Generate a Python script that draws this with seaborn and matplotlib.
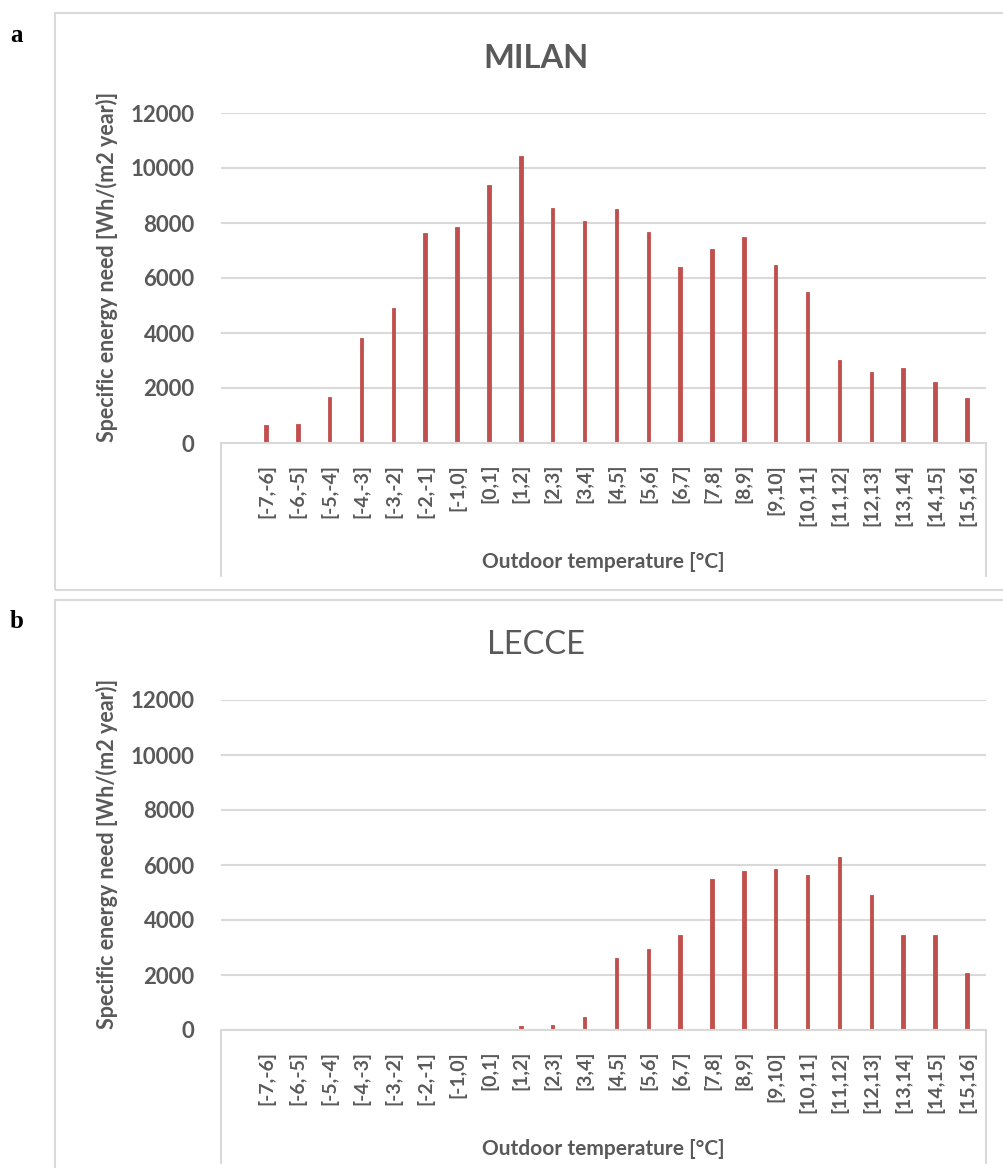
import matplotlib
matplotlib.use("Agg")
import matplotlib.pyplot as plt
import seaborn as sns
import pandas as pd
from matplotlib.patches import Rectangle
from matplotlib.lines import Line2D

# temperature bins [°C]
bins = ["[-7,-6]", "[-6,-5]", "[-5,-4]", "[-4,-3]", "[-3,-2]", "[-2,-1]", "[-1,0]",
        "[0,1]", "[1,2]", "[2,3]", "[3,4]", "[4,5]", "[5,6]", "[6,7]", "[7,8]",
        "[8,9]", "[9,10]", "[10,11]", "[11,12]", "[12,13]", "[13,14]", "[14,15]", "[15,16]"]

# specific energy need [Wh/(m2 year)]
milan = [660, 690, 1680, 3830, 4910, 7620, 7850, 9380, 10450, 8530, 8090, 8520,
         7660, 6410, 7040, 7480, 6480, 5500, 3020, 2600, 2740, 2230, 1620]
lecce = [0, 0, 0, 0, 0, 0, 10, 0, 150, 180, 470, 2610,
         2940, 3440, 5480, 5780, 5840, 5620, 6280, 4910, 3470, 3470, 2070]

yticks = [0, 2000, 4000, 6000, 8000, 10000, 12000]

BAR = "#C0504D"
GREY = "#595959"
LINE = "#D9D9D9"
W, H = 1004, 1168

sns.set_theme(style="white")
plt.rcParams['font.family'] = ['Lato', 'DejaVu Sans']

fig = plt.figure(figsize=(W / 100, H / 100), dpi=100)


def fx(px):
    return px / W


def fy(py):
    return 1 - py / H


def panel(values, title, letter, off, bold_title):
    # outer chart frame
    fig.patches.append(Rectangle((fx(55), fy(590 + off)), fx(1010 - 55), (590 - 13) / H,
                                 transform=fig.transFigure, fill=False,
                                 edgecolor=LINE, linewidth=1.5))
    fig.text(fx(17), fy(35 + off), letter, family="Liberation Serif",
             fontweight="bold", fontsize=18, ha="center", va="center", color="black")

    ax = fig.add_axes([fx(221), fy(443 + off), fx(986 - 221), (443 - 113) / H])
    df = pd.DataFrame({"bin": bins, "need": values})
    sns.barplot(data=df, x="bin", y="need", color=BAR, saturation=1, width=0.11,
                edgecolor=BAR, linewidth=0.6, ax=ax)
    ax.set_xlim(-1.41, 22.6)
    ax.set_ylim(0, 12000)
    ax.set_yticks(yticks)
    ax.set_yticklabels([str(t) for t in yticks], fontweight="bold", fontsize=16, color=GREY)
    ax.set_xticks(range(len(bins)))
    ax.set_xticklabels(bins, rotation=90, fontweight="bold", fontsize=14, color=GREY)
    ax.tick_params(axis="y", length=0, pad=19)
    ax.tick_params(axis="x", length=0, pad=15)
    ax.grid(axis="y", color=LINE, linewidth=1.5)
    ax.set_axisbelow(True)
    for s in ["top", "left", "right"]:
        ax.spines[s].set_visible(False)
    ax.spines["bottom"].set_color(LINE)
    ax.spines["bottom"].set_linewidth(1.5)
    ax.set_xlabel("")
    ax.set_ylabel("Specific energy need [Wh/(m2 year)]", fontweight="bold",
                  fontsize=15.5, color=GREY)
    ax.yaxis.set_label_coords(-0.135, 0.533)

    # category axis box lines
    for xp in (221, 986):
        fig.add_artist(Line2D([fx(xp), fx(xp)], [fy(443 + off), fy(576 + off)],
                              transform=fig.transFigure, color=LINE, linewidth=1.5))

    fig.text(fx(536), fy(58 + off), title, fontsize=23.5, color=GREY,
             fontweight="bold" if bold_title else "normal", ha="center", va="center")
    fig.text(fx(603), fy(562 + off), "Outdoor temperature [°C]", fontsize=15,
             fontweight="bold", color=GREY, ha="center", va="center")
    return ax


panel(milan, "MILAN", "a", 0, True)
panel(lecce, "LECCE", "b", 587, False)

fig.savefig("out.png", dpi=100, facecolor="white")
